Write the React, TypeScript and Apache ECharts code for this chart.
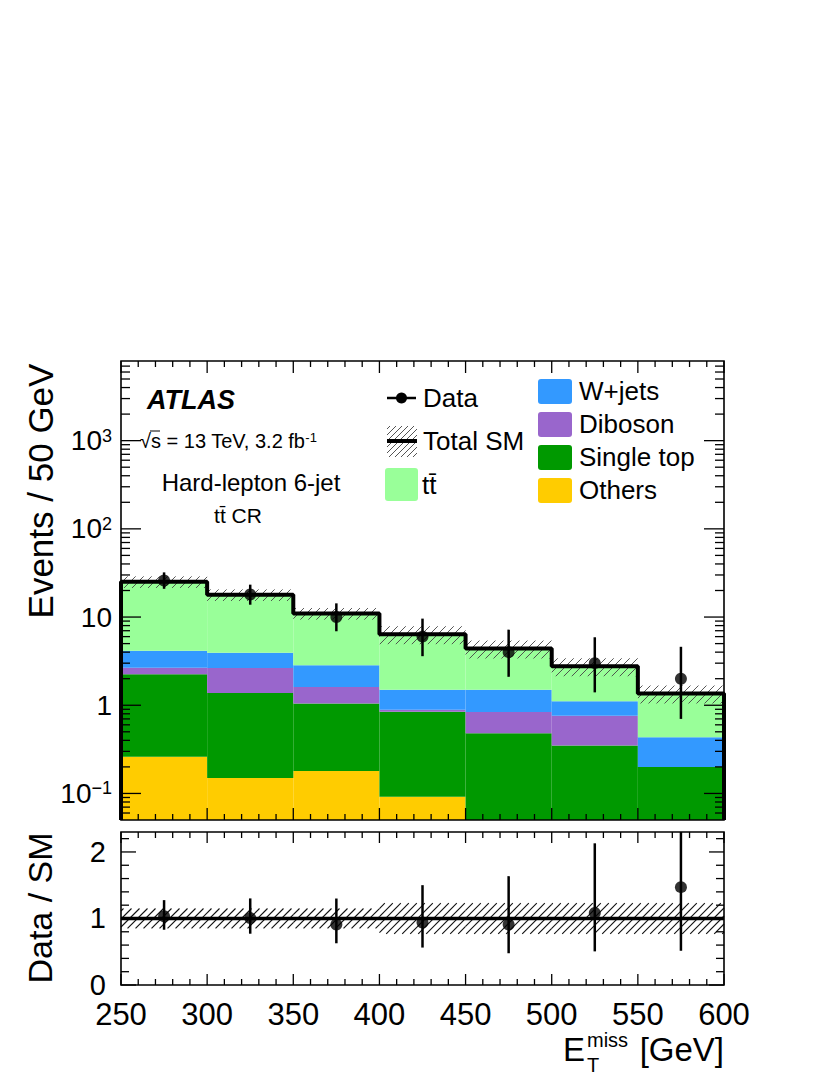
import React, { useEffect, useRef } from "react";
import * as echarts from "echarts";

// ---------------- data ----------------
const binEdges = [250, 300, 350, 400, 450, 500, 550, 600];
const binCenters = [275, 325, 375, 425, 475, 525, 575];
const others = [0.26, 0.15, 0.18, 0.092, 0, 0, 0];
const singleTop = [1.98, 1.23, 0.87, 0.75, 0.48, 0.35, 0.2];
const diboson = [0.43, 1.27, 0.56, 0.045, 0.36, 0.41, 0];
const wjets = [1.49, 1.3, 1.23, 0.61, 0.66, 0.35, 0.235];
const ttbar = [21.0, 13.95, 8.16, 4.9, 2.9, 1.66, 0.925];
const dataCounts = [26, 18, 10, 6, 4, 3, 2];
const dataErrLow = [20.9, 13.8, 6.9, 3.6, 2.1, 1.4, 0.7];
const dataErrHigh = [32.1, 23.3, 14.3, 9.6, 7.2, 5.9, 4.6];
const relUnc = [0.15, 0.15, 0.15, 0.23, 0.23, 0.23, 0.23];

const xTickLabels = [250, 300, 350, 400, 450, 500, 550, 600];
const yLogTickLabels = [0.1, 1, 10, 100, 1000];
const ratioTickLabels = [0, 1, 2];

// ---------------- style constants ----------------
const FONT = "'Liberation Sans', Arial, Helvetica, sans-serif";
const Y_MIN = 0.05;
const Y_MAX = 8000;
const R_MIN = 0;
const R_MAX = 2.3;
const X_MIN = 250;
const X_MAX = 600;

const layers = [
  { name: "Others", values: others, color: "#ffcc00" },
  { name: "Single top", values: singleTop, color: "#009900" },
  { name: "Diboson", values: diboson, color: "#9966cc" },
  { name: "W+jets", values: wjets, color: "#3399ff" },
  { name: "tt\u0304", values: ttbar, color: "#99ff99" },
];

const total = binCenters.map((_, i) =>
  layers.reduce((s, l) => s + l.values[i], 0)
);
const ratio = dataCounts.map((d, i) => d / total[i]);
const ratioLow = dataErrLow.map((d, i) => d / total[i]);
const ratioHigh = dataErrHigh.map((d, i) => d / total[i]);

// tick values (axis decoration)
const xMinorTicks: number[] = [];
for (let v = X_MIN + 10; v < X_MAX; v += 10) if (v % 50 !== 0) xMinorTicks.push(v);
const yLogMinorTicks: number[] = [];
[0.01, 0.1, 1, 10, 100, 1000].forEach((dec) => {
  for (let k = 2; k <= 9; k++) {
    const v = k * dec;
    if (v > Y_MIN && v < Y_MAX) yLogMinorTicks.push(v);
  }
});
const ratioMinorTicks = [0.2, 0.4, 0.6, 0.8, 1.2, 1.4, 1.6, 1.8, 2.2];

// ---------------- helpers ----------------
function hatchLines(
  r: { x: number; y: number; width: number; height: number },
  spacing: number,
  stroke: string,
  lw: number
) {
  const out: any[] = [];
  const xa = r.x, xb = r.x + r.width, ya = r.y, yb = r.y + r.height;
  const cStart = Math.ceil((xa + ya) / spacing) * spacing;
  const cEnd = xb + yb;
  for (let c = cStart; c <= cEnd; c += spacing) {
    const xs = Math.max(xa, c - yb);
    const xe = Math.min(xb, c - ya);
    if (xe <= xs) continue;
    out.push({
      type: "line",
      shape: { x1: xs, y1: c - xs, x2: xe, y2: c - xe },
      style: { stroke, lineWidth: lw },
    });
  }
  return out;
}

function makeRect(color: string, floor: number | null) {
  return (params: any, api: any) => {
    const x0 = api.value(0), x1 = api.value(1);
    let lo = api.value(2);
    const hi = api.value(3);
    if (!(hi > lo)) return null;
    if (floor !== null && lo < floor) lo = floor;
    const p0 = api.coord([x0, lo]);
    const p1 = api.coord([x1, hi]);
    const shape = echarts.graphic.clipRectByRect(
      { x: p0[0], y: p1[1], width: p1[0] - p0[0], height: p0[1] - p1[1] },
      params.coordSys
    );
    if (!shape) return null;
    return { type: "rect", shape, style: { fill: color } };
  };
}

function makeHatch(spacing: number, stroke: string, lw: number) {
  return (params: any, api: any) => {
    const p0 = api.coord([api.value(0), api.value(2)]);
    const p1 = api.coord([api.value(1), api.value(3)]);
    const r = echarts.graphic.clipRectByRect(
      { x: p0[0], y: p1[1], width: p1[0] - p0[0], height: p0[1] - p1[1] },
      params.coordSys
    );
    if (!r) return null;
    return { type: "group", children: hatchLines(r, spacing, stroke, lw) };
  };
}

function makeErrBar(lw: number) {
  return (params: any, api: any) => {
    const cs = params.coordSys;
    const a = api.coord([api.value(0), api.value(1)]);
    const b = api.coord([api.value(0), api.value(2)]);
    const yTop = Math.max(cs.y, Math.min(a[1], b[1]));
    const yBot = Math.min(cs.y + cs.height, Math.max(a[1], b[1]));
    return {
      type: "line",
      shape: { x1: a[0], y1: yBot, x2: a[0], y2: yTop },
      style: { stroke: "#000", lineWidth: lw },
    };
  };
}

function makeXTicks(majorLen: number, minorLen: number) {
  return (params: any, api: any) => {
    const cs = params.coordSys;
    const px = api.coord([api.value(0), api.value(1)])[0];
    const L = api.value(2) ? majorLen : minorLen;
    const st = { stroke: "#000", lineWidth: 1.3 };
    return {
      type: "group",
      children: [
        { type: "line", shape: { x1: px, y1: cs.y + cs.height, x2: px, y2: cs.y + cs.height - L }, style: st },
        { type: "line", shape: { x1: px, y1: cs.y, x2: px, y2: cs.y + L }, style: st },
      ],
    };
  };
}

function makeYTicks(majorLen: number, minorLen: number) {
  return (params: any, api: any) => {
    const cs = params.coordSys;
    const py = api.coord([api.value(0), api.value(1)])[1];
    const L = api.value(2) ? majorLen : minorLen;
    const st = { stroke: "#000", lineWidth: 1.3 };
    return {
      type: "group",
      children: [
        { type: "line", shape: { x1: cs.x, y1: py, x2: cs.x + L, y2: py }, style: st },
        { type: "line", shape: { x1: cs.x + cs.width, y1: py, x2: cs.x + cs.width - L, y2: py }, style: st },
      ],
    };
  };
}

function frameItem(params: any) {
  const cs = params.coordSys;
  return {
    type: "rect",
    shape: { x: cs.x, y: cs.y, width: cs.width, height: cs.height },
    style: { fill: "none", stroke: "#000", lineWidth: 1.6 },
  };
}

function buildOption(): any {
  // stacked histogram layers
  let cum = binCenters.map(() => 0);
  const stackSeries = layers.map((l) => {
    const d = binCenters.map((_, i) => [binEdges[i], binEdges[i + 1], cum[i], cum[i] + l.values[i]]);
    cum = cum.map((c, i) => c + l.values[i]);
    return {
      type: "custom",
      name: l.name,
      xAxisIndex: 0,
      yAxisIndex: 0,
      z: 2,
      encode: { x: [0, 1], y: [2, 3] },
      data: d,
      renderItem: makeRect(l.color, Y_MIN),
    };
  });

  const mainHatch = binCenters.map((_, i) => [
    binEdges[i], binEdges[i + 1], total[i] * (1 - relUnc[i]), total[i] * (1 + relUnc[i]),
  ]);
  const ratioHatch = binCenters.map((_, i) => [binEdges[i], binEdges[i + 1], 1 - relUnc[i], 1 + relUnc[i]]);

  const smOutline: number[][] = [[binEdges[0], Y_MIN]];
  binCenters.forEach((_, i) => smOutline.push([binEdges[i], total[i]]));
  smOutline.push([binEdges[binEdges.length - 1], total[total.length - 1]]);
  smOutline.push([binEdges[binEdges.length - 1], Y_MIN]);

  const xTickData = (yBase: number) => [
    ...xTickLabels.map((v) => [v, yBase, 1]),
    ...xMinorTicks.map((v) => [v, yBase, 0]),
  ];

  const graphics: any[] = [];
  const txt = (text: string, x: number, y: number, size: number, extra: any = {}, el: any = {}) =>
    graphics.push({
      type: "text",
      x,
      y,
      z: 100,
      ...el,
      style: {
        text,
        fontSize: size,
        fontFamily: FONT,
        fill: "#000",
        align: "left",
        verticalAlign: "middle",
        ...extra,
      },
    });

  // axis titles
  txt("Events / 50 GeV", 40, 491, 35, { align: "center" }, { rotation: Math.PI / 2 });
  txt("Data / SM", 40, 908, 34, { align: "center" }, { rotation: Math.PI / 2 });
  txt("E", 563, 1049, 33, { lineHeight: 30 });
  txt("miss", 587, 1040, 20, { lineHeight: 16 });
  txt("T", 587, 1065, 20, { lineHeight: 16 });
  txt("[GeV]", 724, 1049, 33, { align: "right", lineHeight: 30 });

  // ATLAS labels
  txt("ATLAS", 147, 400, 27, { fontWeight: "bold", fontStyle: "italic" });
  txt("\u221As = 13 TeV, 3.2 fb{sup|-1}", 140, 441, 20, {
    rich: { sup: { fontSize: 13, fontFamily: FONT, fill: "#000", verticalAlign: "top", lineHeight: 13 } },
  });
  graphics.push({ type: "line", z: 100, shape: { x1: 150, y1: 431, x2: 160, y2: 431 }, style: { stroke: "#000", lineWidth: 1 } });
  txt("Hard-lepton 6-jet", 251, 482, 24, { align: "center" });
  txt("tt\u0304 CR", 238, 515, 21, { align: "center" });

  // legend column 1
  graphics.push({ type: "line", z: 100, shape: { x1: 387, y1: 398, x2: 416, y2: 398 }, style: { stroke: "#000", lineWidth: 2.5 } });
  graphics.push({ type: "circle", z: 101, shape: { cx: 401.5, cy: 398, r: 5.5 }, style: { fill: "#000" } });
  txt("Data", 423, 398, 26);
  hatchLines({ x: 387, y: 426, width: 30, height: 31 }, 6, "#555", 1).forEach((l) => graphics.push({ ...l, z: 100 }));
  graphics.push({ type: "line", z: 101, shape: { x1: 387, y1: 441, x2: 417, y2: 441 }, style: { stroke: "#000", lineWidth: 4 } });
  txt("Total SM", 423, 441, 26);
  graphics.push({ type: "rect", z: 100, shape: { x: 385, y: 468, width: 33, height: 33, r: 3 }, style: { fill: layers[4].color } });
  txt(layers[4].name, 422, 485, 26);

  // legend column 2
  const col2 = [layers[3], layers[2], layers[1], layers[0]];
  col2.forEach((l, k) => {
    const y = 379 + k * 33;
    graphics.push({ type: "rect", z: 100, shape: { x: 538, y, width: 34, height: 25, r: 3 }, style: { fill: l.color } });
    txt(l.name, 579, y + 12, 26);
  });

  const logLabel = (v: number) => {
    const e = Math.round(Math.log10(v));
    if (e === 0) return "1";
    if (e === 1) return "10";
    return "10{sup|" + (e < 0 ? "\u2212" + -e : String(e)) + "}";
  };

  return {
    animation: false,
    backgroundColor: "#fff",
    graphic: graphics,
    grid: [
      { left: 121, top: 361, width: 603, height: 459, containLabel: false },
      { left: 121, top: 832, width: 603, height: 153, containLabel: false },
    ],
    xAxis: [
      {
        gridIndex: 0, type: "value", min: X_MIN, max: X_MAX, interval: 50,
        axisLine: { show: false }, axisTick: { show: false }, axisLabel: { show: false }, splitLine: { show: false },
      },
      {
        gridIndex: 1, type: "value", min: X_MIN, max: X_MAX, interval: 50,
        axisLine: { show: false }, axisTick: { show: false }, splitLine: { show: false },
        axisLabel: {
          show: true, fontSize: 31, lineHeight: 28, fontFamily: FONT, color: "#000", margin: 15,
          customValues: xTickLabels,
        },
      },
    ],
    yAxis: [
      {
        gridIndex: 0, type: "log", logBase: 10, min: Y_MIN, max: Y_MAX,
        axisLine: { show: false }, axisTick: { show: false }, splitLine: { show: false },
        axisLabel: {
          show: true, fontSize: 28, fontFamily: FONT, color: "#000", margin: 9,
          customValues: yLogTickLabels,
          formatter: logLabel,
          rich: { sup: { fontSize: 18, fontFamily: FONT, color: "#000", verticalAlign: "top", lineHeight: 18 } },
        },
      },
      {
        gridIndex: 1, type: "value", min: R_MIN, max: R_MAX, interval: 1,
        axisLine: { show: false }, axisTick: { show: false }, splitLine: { show: false },
        axisLabel: {
          show: true, fontSize: 29, lineHeight: 22, fontFamily: FONT, color: "#000", margin: 15,
          customValues: ratioTickLabels,
        },
      },
    ],
    series: [
      ...stackSeries,
      {
        type: "custom", name: "hatchMain", xAxisIndex: 0, yAxisIndex: 0, z: 3,
        encode: { x: [0, 1], y: [2, 3] }, data: mainHatch, renderItem: makeHatch(8, "#444", 0.9),
      },
      {
        type: "line", name: "Total SM", xAxisIndex: 0, yAxisIndex: 0, z: 4, step: "end",
        showSymbol: false, symbol: "none", data: smOutline,
        lineStyle: { color: "#000", width: 4 },
      },
      {
        type: "custom", name: "dataErr", xAxisIndex: 0, yAxisIndex: 0, z: 5,
        encode: { x: 0, y: [1, 2] },
        data: binCenters.map((x, i) => [x, dataErrLow[i], dataErrHigh[i]]),
        renderItem: makeErrBar(2.5),
      },
      {
        type: "scatter", name: "Data", xAxisIndex: 0, yAxisIndex: 0, z: 6,
        symbol: "circle", symbolSize: 12, itemStyle: { color: "#000" },
        data: binCenters.map((x, i) => [x, dataCounts[i]]),
      },
      {
        type: "custom", name: "xticksMain", xAxisIndex: 0, yAxisIndex: 0, z: 7,
        encode: { x: 0, y: 1 }, data: xTickData(Y_MIN), renderItem: makeXTicks(12, 6),
      },
      {
        type: "custom", name: "yticksMain", xAxisIndex: 0, yAxisIndex: 0, z: 7,
        encode: { x: 0, y: 1 },
        data: [...yLogTickLabels.map((v) => [X_MIN, v, 1]), ...yLogMinorTicks.map((v) => [X_MIN, v, 0])],
        renderItem: makeYTicks(20, 9),
      },
      {
        type: "custom", name: "frameMain", xAxisIndex: 0, yAxisIndex: 0, z: 8,
        encode: { x: 0, y: 1 }, data: [[X_MIN, 1]], renderItem: frameItem,
      },
      // ratio panel
      {
        type: "custom", name: "hatchRatio", xAxisIndex: 1, yAxisIndex: 1, z: 3,
        encode: { x: [0, 1], y: [2, 3] }, data: ratioHatch, renderItem: makeHatch(8, "#111", 1.1),
      },
      {
        type: "line", name: "unity", xAxisIndex: 1, yAxisIndex: 1, z: 4,
        showSymbol: false, symbol: "none", data: [[X_MIN, 1], [X_MAX, 1]],
        lineStyle: { color: "#000", width: 3.5 },
      },
      {
        type: "custom", name: "ratioErr", xAxisIndex: 1, yAxisIndex: 1, z: 5,
        encode: { x: 0, y: [1, 2] },
        data: binCenters.map((x, i) => [x, ratioLow[i], ratioHigh[i]]),
        renderItem: makeErrBar(2.5),
      },
      {
        type: "scatter", name: "Ratio", xAxisIndex: 1, yAxisIndex: 1, z: 6,
        symbol: "circle", symbolSize: 12, itemStyle: { color: "#000" },
        data: binCenters.map((x, i) => [x, ratio[i]]),
      },
      {
        type: "custom", name: "xticksRatio", xAxisIndex: 1, yAxisIndex: 1, z: 7,
        encode: { x: 0, y: 1 }, data: xTickData(R_MIN), renderItem: makeXTicks(11, 6),
      },
      {
        type: "custom", name: "yticksRatio", xAxisIndex: 1, yAxisIndex: 1, z: 7,
        encode: { x: 0, y: 1 },
        data: [...ratioTickLabels.map((v) => [X_MIN, v, 1]), ...ratioMinorTicks.map((v) => [X_MIN, v, 0])],
        renderItem: makeYTicks(15, 8),
      },
      {
        type: "custom", name: "frameRatio", xAxisIndex: 1, yAxisIndex: 1, z: 8,
        encode: { x: 0, y: 1 }, data: [[X_MIN, 1]], renderItem: frameItem,
      },
    ],
  };
}

export default function App() {
  const ref = useRef<HTMLDivElement>(null);
  useEffect(() => {
    if (!ref.current) return;
    const chart = echarts.init(ref.current, null, { renderer: "svg" });
    chart.setOption(buildOption());
    return () => chart.dispose();
  }, []);
  return (
    <div
      ref={ref}
      style={{ position: "fixed", left: 0, top: 0, width: 830, height: 1075, background: "#fff" }}
    />
  );
}
